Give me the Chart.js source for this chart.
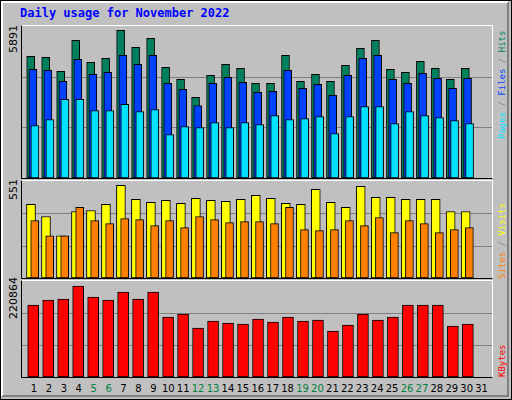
<!DOCTYPE html>
<html><head><meta charset="utf-8">
<script src="https://cdn.jsdelivr.net/npm/chart.js@4/dist/chart.umd.min.js"></script>
<style>
body{margin:0;background:#fff;}
#wrap{position:absolute;left:0;top:0;width:510px;height:398px;border:1px solid #000;background:#C0C0C0;}
#inner{position:absolute;left:0;top:0;width:504px;height:392px;border-top:2px solid #fff;border-left:2px solid #fff;border-right:2px solid #808080;border-bottom:2px solid #808080;}
.panel{position:absolute;left:20px;width:470px;border-top:1px solid #fff;border-right:1px solid #fff;border-left:1px solid #000;border-bottom:1px solid #000;}
.t{position:absolute;font-family:"DejaVu Sans Mono",monospace;white-space:nowrap;}
.rot{position:absolute;transform-origin:0 0;transform:rotate(-90deg);font-family:"DejaVu Sans Mono",monospace;font-size:9px;white-space:nowrap;}
.xl{position:absolute;top:382px;font-family:"DejaVu Sans",sans-serif;font-size:10px;width:20px;text-align:center;}
canvas{position:absolute;left:0;top:0;}
</style></head><body>
<div id="wrap"><div id="inner"></div>
<div class="t" style="left:19px;top:5px;font-size:12px;font-weight:bold;color:#0000FF;">Daily usage for November 2022</div>
<div class="panel" style="top:24px;height:152px;"><canvas id="c1" width="470" height="152"></canvas></div>
<div class="panel" style="top:179px;height:97px;"><canvas id="c2" width="470" height="97"></canvas></div>
<div class="panel" style="top:279px;height:96px;"><canvas id="c3" width="470" height="96"></canvas></div>
<div class="rot" style="left:6px;top:52px;font-family:'DejaVu Sans',sans-serif;font-size:11px;">5891</div>
<div class="rot" style="left:6px;top:199px;font-family:'DejaVu Sans',sans-serif;font-size:11px;">551</div>
<div class="rot" style="left:6px;top:318px;font-family:'DejaVu Sans',sans-serif;font-size:11px;">220864</div>
<div class="rot" style="left:496px;top:138px;"><span style="color:#00E0FF">Pages</span><span style="color:#808080"> / </span><span style="color:#0040FF">Files</span><span style="color:#808080"> / </span><span style="color:#00805C">Hits</span></div>
<div class="rot" style="left:496px;top:278px;"><span style="color:#FF8000">Sites</span><span style="color:#808080"> / </span><span style="color:#FFFF00">Visits</span></div>
<div class="rot" style="left:496px;top:376px;color:#FF0000">KBytes</div>
<div id="xl"></div>
</div>
<script>
const days=[1,2,3,4,5,6,7,8,9,10,11,12,13,14,15,16,17,18,19,20,21,22,23,24,25,26,27,28,29,30,31];
const weekend=[5,6,12,13,19,20,26,27];
const hits=[4856,4816,4256,5496,4616,4776,5891,5216,5576,4416,3936,3216,4096,4536,4376,3776,3776,4896,3856,4136,3856,4496,5176,5496,4336,4216,4656,4376,3936,4376,0];
const files=[4336,4296,3856,4736,4136,4216,4896,4536,4896,3776,3536,2896,3776,4016,3816,3416,3456,4296,3576,3736,3296,4096,4776,4896,3936,3776,4176,3976,3576,3976,0];
const pages=[2096,2336,3136,3136,2696,2696,2936,2656,2736,1736,2056,2016,2216,2016,2216,2136,2496,2336,2376,2456,1776,2456,2856,2856,2176,2656,2496,2416,2296,2176,0];
const visits=[437,365,251,395,401,437,551,467,449,461,443,473,461,455,467,491,473,443,437,527,449,419,545,479,479,467,467,467,395,395,0];
const sites=[341,251,251,419,341,323,353,347,311,341,299,365,347,329,335,335,323,419,287,281,287,341,311,359,269,341,323,269,287,299,0];
const kbytes=[174744,186879,189306,220864,194160,186879,206302,189306,206302,145620,152901,118923,135912,131058,128631,140766,133485,145620,135912,138339,111642,126204,152901,138339,145620,174744,174744,174744,123777,128631,0];

const xl=document.getElementById('xl');
days.forEach((d,i)=>{const e=document.createElement('div');e.className='xl';e.textContent=d;e.style.left=(23+14.92*i)+'px';e.style.color=weekend.includes(d)?'#008040':'#000';xl.appendChild(e);});

const grid={id:'grid',beforeDatasetsDraw(ch){const y=ch.scales.y,c=ch.ctx;c.save();c.strokeStyle='#808080';c.lineWidth=1;[1/3,2/3].forEach(f=>{const p=Math.round(y.getPixelForValue(y.max*f))+0.5;c.beginPath();c.moveTo(0,p);c.lineTo(ch.width,p);c.stroke();});c.restore();}};
function ds(vals,off,color,w){return{data:vals.map((v,i)=>({x:days[i]+off,y:v})),backgroundColor:color,borderColor:'#000',borderWidth:1,borderSkipped:false,barThickness:w,grouped:false};}
function mk(id,sets,ymax){new Chart(document.getElementById(id),{type:'bar',data:{datasets:sets},plugins:[grid],options:{responsive:false,animation:false,devicePixelRatio:1,layout:{padding:0},plugins:{legend:{display:false},tooltip:{enabled:false}},scales:{x:{type:'linear',offset:false,bounds:'ticks',min:0.273,max:31.63,display:false},y:{min:0,max:ymax,display:false}}}});}
mk('c1',[ds(pages,0.133,'#00E0FF',8),ds(files,0,'#0040FF',8),ds(hits,-0.147,'#00805C',8)],6068);
mk('c2',[ds(sites,0.12,'#FF8000',8),ds(visits,-0.127,'#FFFF00',9)],576);
mk('c3',[ds(kbytes,0.02,'#FF0000',11)],233000);
</script></body></html>
